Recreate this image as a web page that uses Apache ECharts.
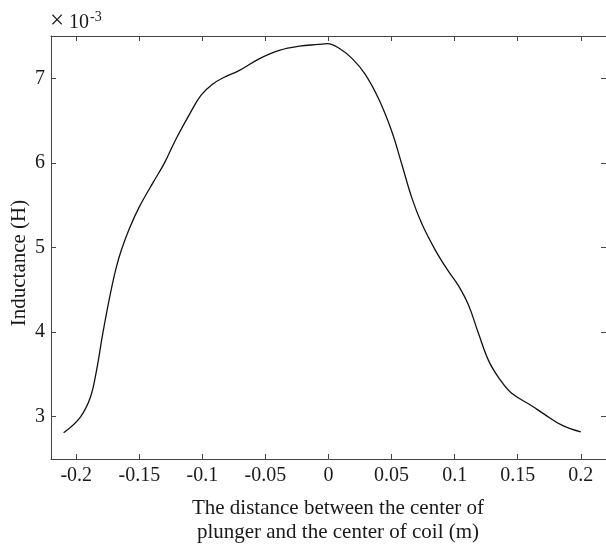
<!DOCTYPE html>
<html>
<head>
<meta charset="utf-8">
<script src="https://cdn.jsdelivr.net/npm/echarts@6/dist/echarts.min.js"></script>
<style>html,body{margin:0;padding:0;background:#fff}#c{width:606px;height:547px}</style>
</head>
<body>
<div id="c"></div>
<script>
// Distance (m)
var xVals = [-0.21, -0.197, -0.189, -0.184, -0.179, -0.173, -0.168, -0.164, -0.158, -0.150, -0.139, -0.130, -0.121, -0.110, -0.101, -0.092, -0.083, -0.071, -0.055, -0.039, -0.023, -0.008, -0.001, 0.009, 0.019, 0.029, 0.040, 0.050, 0.058, 0.066, 0.074, 0.085, 0.095, 0.103, 0.111, 0.119, 0.127, 0.135, 0.145, 0.161, 0.171, 0.185, 0.2];
// Inductance (x 10^-3 H)
var yVals = [2.81, 2.99, 3.22, 3.54, 3.98, 4.45, 4.78, 4.98, 5.22, 5.48, 5.77, 6.00, 6.28, 6.58, 6.80, 6.93, 7.01, 7.09, 7.23, 7.33, 7.38, 7.40, 7.41, 7.35, 7.23, 7.05, 6.75, 6.38, 5.99, 5.59, 5.28, 4.96, 4.72, 4.55, 4.32, 3.98, 3.66, 3.46, 3.28, 3.13, 3.03, 2.90, 2.82];
var xTicks = [-0.2, -0.15, -0.1, -0.05, 0, 0.05, 0.1, 0.15, 0.2];
var xTickLabels = ['-0.2', '-0.15', '-0.1', '-0.05', '0', '0.05', '0.1', '0.15', '0.2'];
var yTicks = [3, 4, 5, 6, 7];
var yTickLabels = ['3', '4', '5', '6', '7'];

var data = xVals.map(function (x, i) { return [x, yVals[i]]; });
var FONT = 'Liberation Serif';
var lineCol = '#444';
var txtCol = '#1a1a1a';

function fmt(ticks, labels) {
  return function (v) {
    for (var i = 0; i < ticks.length; i++) if (Math.abs(ticks[i] - v) < 1e-9) return labels[i];
    return '';
  };
}

var chart = echarts.init(document.getElementById('c'), null, {renderer: 'canvas'});
var axisCommon = {
  axisLine: {show: true, onZero: false, lineStyle: {color: lineCol, width: 1}},
  splitLine: {show: false}
};
chart.setOption({
  animation: false,
  backgroundColor: '#fff',
  grid: {left: 51, top: 36, right: -2, bottom: 88, containLabel: false},
  xAxis: [
    Object.assign({
      type: 'value', position: 'bottom', min: -0.22, max: 0.22,
      axisTick: {show: true, inside: true, length: 5, customValues: xTicks, lineStyle: {color: lineCol}},
      axisLabel: {show: true, customValues: xTicks, formatter: fmt(xTicks, xTickLabels), color: txtCol, fontFamily: FONT, fontSize: 20, margin: 7}
    }, axisCommon),
    Object.assign({
      type: 'value', position: 'top', min: -0.22, max: 0.22,
      axisTick: {show: true, inside: true, length: 5, customValues: xTicks, lineStyle: {color: lineCol}},
      axisLabel: {show: false}
    }, axisCommon)
  ],
  yAxis: [
    Object.assign({
      type: 'value', position: 'left', min: 2.5, max: 7.5,
      axisTick: {show: true, inside: true, length: 5, customValues: yTicks, lineStyle: {color: lineCol}},
      axisLabel: {show: true, customValues: yTicks, formatter: fmt(yTicks, yTickLabels), color: txtCol, fontFamily: FONT, fontSize: 20, margin: 6}
    }, axisCommon),
    Object.assign({
      type: 'value', position: 'right', min: 2.5, max: 7.5,
      axisTick: {show: true, inside: true, length: 5, customValues: yTicks, lineStyle: {color: lineCol}},
      axisLabel: {show: false}
    }, axisCommon)
  ],
  series: [{
    type: 'line', data: data, xAxisIndex: 0, yAxisIndex: 0,
    smooth: 0.4, showSymbol: false, symbol: 'none',
    lineStyle: {color: '#111', width: 1.3}
  }],
  graphic: [
    {type: 'text', x: 50, y: 34, style: {
      text: '×', fontFamily: FONT, fontSize: 25, fill: txtCol, verticalAlign: 'bottom'
    }},
    {type: 'text', x: 69, y: 33, style: {
      text: '10', fontFamily: FONT, fontSize: 20, fill: txtCol, verticalAlign: 'bottom'
    }},
    {type: 'text', x: 90, y: 24, style: {
      text: '-3', fontFamily: FONT, fontSize: 14, fill: txtCol, verticalAlign: 'bottom'
    }},
    {type: 'text', x: 19, y: 263, rotation: Math.PI / 2, style: {
      text: 'Inductance (H)', fontFamily: FONT, fontSize: 21, fill: txtCol, align: 'center', verticalAlign: 'middle'
    }},
    {type: 'text', x: 338, y: 508, style: {
      text: 'The distance between the center of', fontFamily: FONT, fontSize: 21, fill: txtCol, align: 'center', verticalAlign: 'middle'
    }},
    {type: 'text', x: 338, y: 532, style: {
      text: 'plunger and the center of coil (m)', fontFamily: FONT, fontSize: 21, fill: txtCol, align: 'center', verticalAlign: 'middle'
    }}
  ]
});
</script>
</body>
</html>
